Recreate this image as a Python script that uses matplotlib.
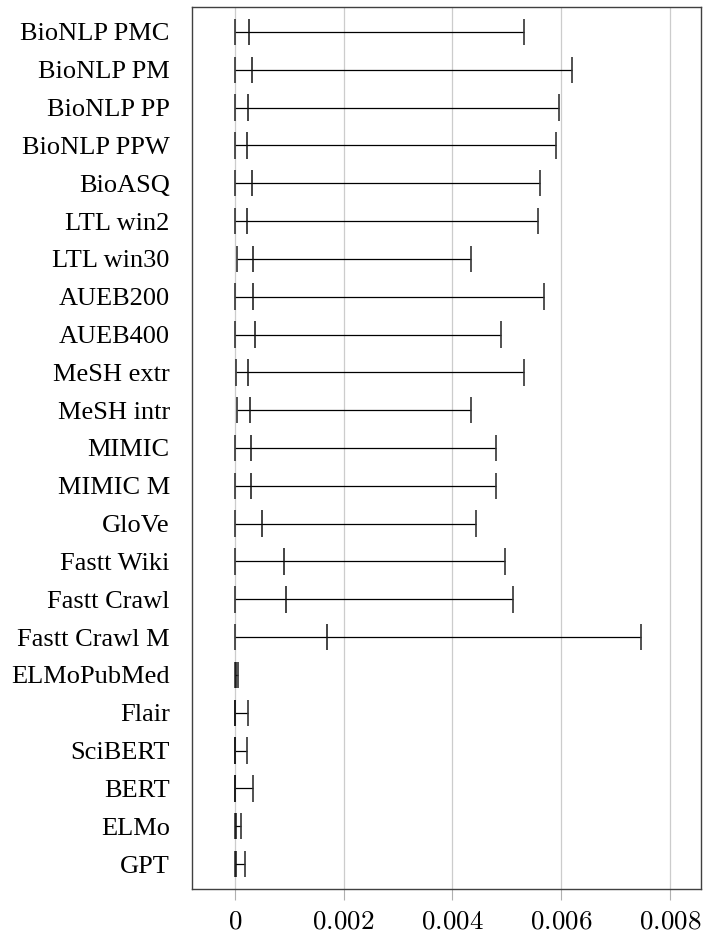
import matplotlib as mpl
import matplotlib.pyplot as plt

mpl.use('Agg')

# modelos e valores (min, mediana, max)
modelos = ["BioNLP PMC", "BioNLP PM", "BioNLP PP", "BioNLP PPW", "BioASQ",
           "LTL win2", "LTL win30", "AUEB200", "AUEB400", "MeSH extr",
           "MeSH intr", "MIMIC", "MIMIC M", "GloVe", "Fastt Wiki",
           "Fastt Crawl", "Fastt Crawl M", "ELMoPubMed", "Flair", "SciBERT",
           "BERT", "ELMo", "GPT"]

minimos = [0.0, 0.00001, 0.0, 0.0, 0.0,
           0.0, 0.00005, 0.0, 0.00001, 0.00002,
           0.00004, 0.0, 0.0, 0.0, 0.0,
           0.0, 0.0, 0.0, 0.0, 0.0,
           0.0, 0.0, 0.0]

medianas = [0.00027, 0.00032, 0.00025, 0.00022, 0.00032,
            0.00022, 0.00033, 0.00034, 0.00037, 0.00025,
            0.00029, 0.00030, 0.00030, 0.00050, 0.00090,
            0.00095, 0.00169, 0.00002, 0.00001, 0.00001,
            0.00001, 0.00003, 0.00002]

maximos = [0.00531, 0.00620, 0.00596, 0.00591, 0.00561,
           0.00557, 0.00435, 0.00568, 0.00489, 0.00531,
           0.00435, 0.00480, 0.00481, 0.00443, 0.00496,
           0.00512, 0.00746, 0.00006, 0.00024, 0.00023,
           0.00033, 0.00011, 0.00018]

xticks = [0, 0.002, 0.004, 0.006, 0.008]
xlabels = ["$0$", "$0.002$", "$0.004$", "$0.006$", "$0.008$"]

plt.rcParams['mathtext.fontset'] = 'cm'

fig = plt.figure(figsize=(7.11, 9.35), dpi=100)
ax = fig.add_axes([192 / 711, 1 - 889 / 935, (701 - 192) / 711, (889 - 7) / 935])

pos = list(range(len(modelos)))

ax.hlines(pos, minimos, maximos, colors='black', linewidth=0.9, zorder=3)
ax.vlines(minimos, [p - 0.35 for p in pos], [p + 0.35 for p in pos],
          colors='#333333', linewidth=1.2, zorder=3)
ax.vlines(medianas, [p - 0.35 for p in pos], [p + 0.35 for p in pos],
          colors='#111111', linewidth=1.1, zorder=3)
ax.vlines(maximos, [p - 0.35 for p in pos], [p + 0.35 for p in pos],
          colors='#333333', linewidth=1.2, zorder=3)

ax.set_xlim(-0.000785, 0.00857)
ax.set_ylim(len(modelos) - 1 + 0.66, -0.66)

ax.set_yticks(pos)
ax.set_yticklabels(modelos, fontfamily='Liberation Serif', fontsize=19)
ax.tick_params(axis='y', length=0, pad=16)

ax.set_xticks(xticks)
ax.set_xticklabels(xlabels, fontsize=19.5)
ax.tick_params(axis='x', length=8, width=0.8, color='#b0b0b0', pad=6)

ax.grid(axis='x', color='#cccccc', linewidth=0.9, zorder=0)
ax.set_axisbelow(True)

for s in ax.spines.values():
    s.set_color('#404040')
    s.set_linewidth(1.0)

plt.savefig("out.png", dpi=100)
